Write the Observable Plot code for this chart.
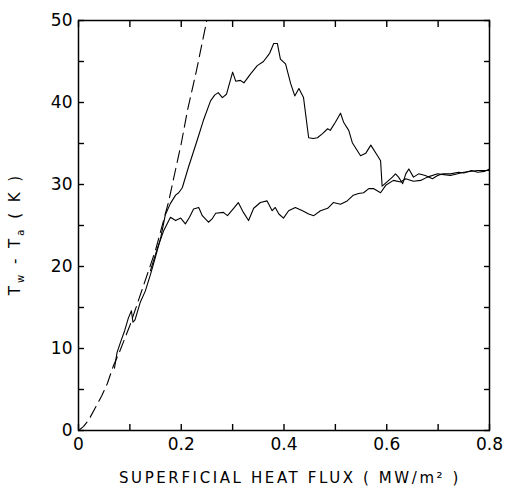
<!DOCTYPE html>
<html>
<head>
<meta charset="utf-8">
<script src="https://cdn.jsdelivr.net/npm/d3@7"></script>
<script src="https://cdn.jsdelivr.net/npm/@observablehq/plot@0.6"></script>
<style>
  html, body { margin: 0; padding: 0; background: #fff; }
  #chart svg { display: block; }
</style>
</head>
<body>
<div id="chart"></div>
<script>
// Theoretical (dashed) curve: heat flux (MW/m2), Tw - Ta (K)
const theoryX = [0, 0.01, 0.02, 0.033, 0.045, 0.056, 0.068, 0.08, 0.10, 0.125, 0.15, 0.175, 0.20, 0.212, 0.23, 0.249, 0.254];
const theoryY = [0, 0.5, 1.3, 2.8, 4.2, 5.7, 7.9, 9.6, 12.8, 17.4, 22.0, 27.8, 35.0, 39.0, 44.0, 49.8, 51.0];

// Upper branch (increasing flux, with temperature overshoot)
const upperX = [0.070, 0.075, 0.082, 0.090, 0.097, 0.103, 0.106, 0.110, 0.120, 0.130, 0.140, 0.150, 0.160, 0.169, 0.179, 0.189, 0.195, 0.202, 0.214, 0.231, 0.243, 0.257, 0.265, 0.272, 0.280, 0.288, 0.300, 0.306, 0.315, 0.322, 0.335, 0.348, 0.360, 0.372, 0.380, 0.387, 0.393, 0.403, 0.413, 0.421, 0.429, 0.438, 0.448, 0.457, 0.465, 0.475, 0.485, 0.490, 0.500, 0.510, 0.516, 0.526, 0.533, 0.549, 0.559, 0.569, 0.582, 0.588, 0.591, 0.600, 0.611, 0.617, 0.623, 0.631, 0.637, 0.643, 0.652, 0.662, 0.675, 0.689, 0.699, 0.710, 0.724, 0.740, 0.750, 0.765, 0.777, 0.790, 0.800];
const upperY = [7.6, 9.5, 10.8, 12.2, 13.7, 14.6, 13.2, 13.5, 15.6, 17.0, 19.0, 21.2, 23.5, 26.3, 27.7, 28.7, 29.0, 29.6, 32.1, 35.4, 37.8, 40.2, 40.9, 41.2, 40.6, 41.0, 43.7, 42.6, 42.7, 42.4, 43.5, 44.5, 45.0, 46.0, 47.2, 47.2, 45.3, 44.7, 42.3, 40.8, 41.7, 40.6, 35.7, 35.6, 35.7, 36.2, 36.8, 36.6, 37.6, 38.7, 37.6, 36.6, 35.1, 33.5, 33.8, 34.8, 33.5, 32.9, 29.8, 30.3, 30.9, 31.3, 30.9, 30.1, 31.3, 31.9, 30.9, 31.3, 31.1, 30.7, 31.1, 31.3, 31.3, 31.5, 31.4, 31.7, 31.5, 31.6, 31.9];

// Lower branch (plateau near 26 K)
const lowerX = [0.140, 0.154, 0.166, 0.179, 0.189, 0.199, 0.208, 0.216, 0.224, 0.234, 0.241, 0.253, 0.260, 0.267, 0.282, 0.290, 0.302, 0.311, 0.321, 0.331, 0.341, 0.354, 0.367, 0.377, 0.383, 0.390, 0.399, 0.409, 0.422, 0.436, 0.448, 0.458, 0.471, 0.485, 0.496, 0.510, 0.523, 0.535, 0.545, 0.555, 0.565, 0.574, 0.588, 0.598, 0.613, 0.627, 0.637, 0.652, 0.666, 0.679, 0.699, 0.724, 0.750, 0.777, 0.800];
const lowerY = [19.5, 22.3, 24.4, 26.0, 25.6, 25.9, 25.2, 26.0, 27.0, 27.2, 26.2, 25.4, 25.8, 26.5, 26.6, 26.2, 27.1, 27.8, 26.6, 25.6, 27.1, 27.8, 28.0, 26.8, 27.2, 26.4, 25.9, 26.8, 27.2, 26.8, 26.4, 26.2, 26.8, 27.1, 27.8, 27.6, 28.0, 28.7, 28.9, 29.0, 29.5, 29.5, 29.0, 29.9, 30.5, 30.3, 30.7, 30.4, 30.5, 30.9, 31.3, 31.1, 31.5, 31.7, 31.7];

// Axis ticks and labels
const xTicks = [0, 0.1, 0.2, 0.3, 0.4, 0.5, 0.6, 0.7, 0.8];
const xLabels = [0, 0.2, 0.4, 0.6, 0.8];
const yTicks = [0, 5, 10, 15, 20, 25, 30, 35, 40, 45, 50];
const yLabels = [0, 10, 20, 30, 40, 50];
const xTitle = "SUPERFICIAL HEAT FLUX ( MW/m² )";

const zip = (xs, ys) => xs.map((x, i) => ({x, y: ys[i]}));
const theory = zip(theoryX, theoryY);
const upper = zip(upperX, upperY);
const lower = zip(lowerX, lowerY);

const W = 505, H = 491;
const mL = 78, mR = 16, mT = 20, mB = 61;
const tick = 6;
const font = "'DejaVu Sans', sans-serif";
const blank = () => "";

const plot = Plot.plot({
  width: W,
  height: H,
  marginLeft: mL,
  marginRight: mR,
  marginTop: mT,
  marginBottom: mB,
  style: {fontFamily: font, fontSize: "15px", color: "#000", background: "#fff"},
  x: {domain: [0, 0.8], axis: null},
  y: {domain: [0, 50], axis: null},
  marks: [
    Plot.line(theory, {x: "x", y: "y", stroke: "#000", strokeWidth: 1.1, strokeDasharray: "12,6", clip: true}),
    Plot.line(lower, {x: "x", y: "y", stroke: "#000", strokeWidth: 1.1}),
    Plot.line(upper, {x: "x", y: "y", stroke: "#000", strokeWidth: 1.1}),
    Plot.frame({stroke: "#000", strokeWidth: 1.5}),
    // inward ticks on all four sides
    Plot.axisX(xTicks, {anchor: "bottom", tickSize: tick, dy: -tick, tickFormat: blank, label: null, strokeWidth: 1.4}),
    Plot.axisX(xTicks, {anchor: "top", tickSize: tick, dy: tick, tickFormat: blank, label: null, strokeWidth: 1.4}),
    Plot.axisY(yTicks, {anchor: "left", tickSize: tick, dx: tick, tickFormat: blank, label: null, strokeWidth: 1.4}),
    Plot.axisY(yTicks, {anchor: "right", tickSize: tick, dx: -tick, tickFormat: blank, label: null, strokeWidth: 1.4}),
    // tick labels
    Plot.axisX(xLabels, {
      anchor: "bottom", tickSize: 0, tickPadding: 7, label: null,
      tickFormat: d => d === 0 ? "0" : d.toFixed(1),
      fontSize: 17, letterSpacing: "2px"
    }),
    Plot.axisY(yLabels, {
      anchor: "left", tickSize: 0, tickPadding: 6, label: null,
      tickFormat: d => String(d),
      fontSize: 17, letterSpacing: "2.5px"
    })
  ]
});

const svg = d3.select(plot);
svg.append("text")
  .attr("x", 290)
  .attr("y", 483)
  .attr("text-anchor", "middle")
  .attr("font-family", font)
  .attr("font-size", 15)
  .attr("letter-spacing", "2.6px")
  .attr("fill", "#000")
  .text(xTitle);

const yl = svg.append("text")
  .attr("transform", "translate(20,234) rotate(-90)")
  .attr("text-anchor", "middle")
  .attr("font-family", font)
  .attr("font-size", 15)
  .attr("letter-spacing", "3px")
  .attr("fill", "#000");
yl.append("tspan").text("T");
yl.append("tspan").attr("font-size", 10).attr("dy", 4).text("w");
yl.append("tspan").attr("dy", -4).text(" - T");
yl.append("tspan").attr("font-size", 10).attr("dy", 4).text("a");
yl.append("tspan").attr("dy", -4).text(" ( K )");

document.getElementById("chart").appendChild(plot);
</script>
</body>
</html>
